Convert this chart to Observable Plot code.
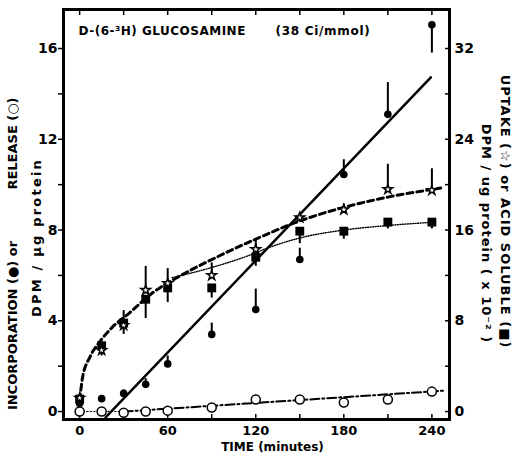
<!DOCTYPE html>
<html><head><meta charset="utf-8">
<script src="https://cdn.jsdelivr.net/npm/d3@7"></script>
<script src="https://cdn.jsdelivr.net/npm/@observablehq/plot@0.6"></script>
<style>body{margin:0;background:#fff}</style>
</head><body><div id="chart"></div>
<script>
// ---- data ----
const times = [0, 15, 30, 45, 60, 90, 120, 150, 180, 210, 240];
// left axis: DPM / ug protein
const incorporation    = [0.35, 0.57, 0.8, 1.2, 2.1, 3.4, 4.5, 6.7, 10.45, 13.1, 17.05];
const incorporationBar = [0.35, 0.7, 0.95, 1.45, 2.45, 3.9, 5.4, 7.2, 11.1, 14.5, 15.8];
const release          = [0, 0, -0.05, 0, 0.04, 0.18, 0.53, 0.53, 0.4, 0.53, 0.88];
// right axis: DPM / ug protein (x 10^-2)
const uptake           = [1.2, 5.4, 7.6, 10.7, 11.3, 12.0, 14.3, 17.1, 17.8, 19.6, 19.5];
const uptakeBar        = [1.2, 5.4, 8.9, 12.8, 12.6, 13.1, 15.2, 17.5, 18.3, 21.8, 21.4];
const acidSoluble      = [1.1, 5.8, 7.8, 9.9, 10.9, 10.9, 13.6, 15.9, 15.9, 16.7, 16.7];
const acidSolubleBar   = [0.7, 4.9, 6.8, 8.2, 9.6, 10.0, 12.8, 14.8, 15.2, 16.1, 16.1];

// fitted curves
const incFitT = [17.7, 239.3];
const incFitV = [-0.26, 14.73];
const relLeadT = [0, 30];
const relLeadV = [0, 0];
const relFitT = [30, 248];
const relFitV = [0.0, 0.92];
const upFitT = [0, 2, 7, 14, 22, 34, 48, 69, 90, 120, 150, 180, 210, 246];
const upFitV = [1.0, 3.0, 4.8, 6.2, 7.4, 8.7, 10.3, 12.0, 13.4, 15.2, 16.8, 18.0, 18.9, 19.7];
const acidFitT = [63, 90, 112, 132, 150, 180, 210, 242];
const acidFitV = [11.8, 12.7, 13.6, 14.6, 15.3, 16.0, 16.4, 16.7];

// ticks
const xTickLabels = [0, 60, 120, 180, 240];
const xTicks = [0, 30, 60, 90, 120, 150, 180, 210, 240];
const leftTickLabels = [0, 4, 8, 12, 16];
const leftTicks = [0, 2, 4, 6, 8, 10, 12, 14, 16];
const rightTickLabels = [0, 8, 16, 24, 32];
const rightTicks = [0, 4, 8, 12, 16, 20, 24, 28, 32];
const RATIO = 2; // right-axis units per left-axis unit

const rows = times.map((t, i) => ({t, inc: incorporation[i], incBar: incorporationBar[i], rel: release[i],
  up: uptake[i], upBar: uptakeBar[i], acid: acidSoluble[i], acidBar: acidSolubleBar[i]}));
const zip = (T, V) => T.map((t, i) => ({t, v: V[i]}));

const spacing = {};
const lbl = (text, dx, dy, rotate, size = 13, extra = {}, ls = null) => {
  if (ls) spacing[text] = ls;
  return Plot.text([text], {text: d => d, frameAnchor: "top-left", dx, dy, rotate, textAnchor: "middle",
    lineAnchor: "middle", fontSize: size, fontWeight: "bold", fill: "black", ...extra});
};

const chart = Plot.plot({
  width: 514, height: 454,
  marginLeft: 63, marginRight: 65, marginTop: 9, marginBottom: 35,
  style: {fontFamily: "'DejaVu Sans', sans-serif", fontSize: "14px", fontWeight: "bold", background: "#fff", color: "#000"},
  x: {domain: [-11, 252]},
  y: {domain: [-0.35, 17.72]},
  marks: [
    Plot.axisX({anchor: "bottom", ticks: xTickLabels, tickSize: 0, tickPadding: 6, fontSize: 13, label: null}),
    Plot.axisX({anchor: "bottom", ticks: xTicks, tickSize: -5, tickFormat: () => "", label: null, strokeWidth: 1.5}),
    Plot.axisX({anchor: "top", ticks: xTicks, tickSize: -5, tickFormat: () => "", label: null, strokeWidth: 1.5}),
    Plot.axisY({anchor: "left", ticks: leftTickLabels, tickSize: 0, tickPadding: 6, label: null}),
    Plot.axisY({anchor: "left", ticks: leftTicks, tickSize: 5, tickFormat: () => "", label: null, strokeWidth: 1.5}),
    Plot.axisY({anchor: "right", ticks: rightTickLabels.map(v => v / RATIO), tickFormat: v => v * RATIO, tickSize: 0, tickPadding: 5, label: null}),
    Plot.axisY({anchor: "right", ticks: rightTicks.map(v => v / RATIO), tickSize: -5, tickFormat: () => "", label: null, strokeWidth: 1.5}),
    Plot.frame({strokeWidth: 3}),
    // fitted lines
    Plot.line(zip(relLeadT, relLeadV), {x: "t", y: "v", strokeWidth: 1, strokeDasharray: "1.5,2"}),
    Plot.line(zip(relFitT, relFitV), {x: "t", y: "v", strokeWidth: 2, strokeDasharray: "9,3,2,3"}),
    Plot.line(zip(incFitT, incFitV), {x: "t", y: "v", strokeWidth: 2.5}),
    Plot.line(zip(upFitT, upFitV), {x: "t", y: d => d.v / RATIO, strokeWidth: 3, strokeDasharray: "6,4", curve: "monotone-x"}),
    Plot.line(zip(acidFitT, acidFitV), {x: "t", y: d => d.v / RATIO, strokeWidth: 1.4, strokeDasharray: "1,1.5", curve: "monotone-x"}),
    // error bars
    Plot.ruleX(rows, {x: "t", y1: "inc", y2: "incBar", strokeWidth: 2}),
    Plot.ruleX(rows, {x: "t", y1: d => d.up / RATIO, y2: d => d.upBar / RATIO, strokeWidth: 2}),
    Plot.ruleX(rows, {x: "t", y1: d => d.acid / RATIO, y2: d => d.acidBar / RATIO, strokeWidth: 2}),
    // points
    Plot.dot(rows, {x: "t", y: "rel", r: 4.5, fill: "white", stroke: "black", strokeWidth: 1.5}),
    Plot.dot(rows, {x: "t", y: "inc", r: 3.8, fill: "black"}),
    Plot.dot(rows, {x: "t", y: d => d.acid / RATIO, symbol: "square", r: 5, fill: "black"}),
    Plot.dot(rows, {x: "t", y: d => d.up / RATIO, symbol: "star", r: 3, fill: "white", stroke: "black", strokeWidth: 1.5}),
    // texts
    lbl("D-(6-\u00B3H) GLUCOSAMINE", 15, 22, 0, 12, {textAnchor: "start"}, "0.5px"),
    lbl("(38 Ci/mmol)", 212, 22, 0, 12, {textAnchor: "start"}, "0.7px"),
    lbl("TIME (minutes)", 209, 438, 0, 12),
    lbl("INCORPORATION (\u25CF) or", -51, 316, -90, 13),
    lbl("RELEASE (\u25CB)", -51, 134, -90, 13),
    lbl("DPM / \u03BCg protein", -27, 228, -90, 13, {}, "2.2px"),
    lbl("UPTAKE (\u2606) or ACID SOLUBLE (\u25A0)", 442, 202, 90, 13, {}, "1px"),
    lbl("DPM / ug protein ( x 10\u207B\u00B2 )", 423, 224, 90, 13, {}, "1px")
  ]
});
d3.select(chart).selectAll("text").each(function() {
  const s = spacing[this.textContent];
  if (s) this.setAttribute("letter-spacing", s);
});
document.getElementById("chart").appendChild(chart);
</script>
</body></html>
